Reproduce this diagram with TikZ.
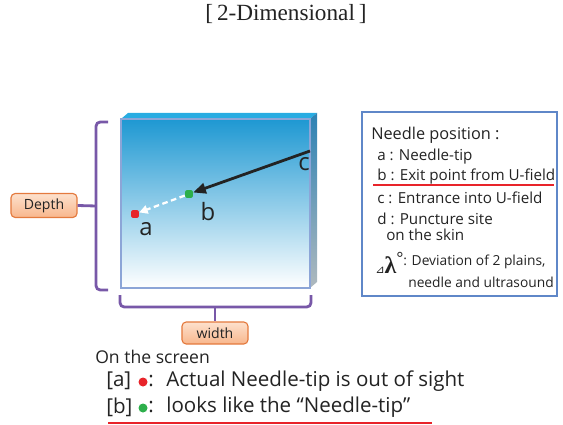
\documentclass[tikz,border=0pt]{standalone}
\usepackage{fontspec}
\setmainfont{Open Sans}
\newfontfamily\titlefont{Liberation Serif}
\newfontfamily\symfont{DejaVu Sans}
\usetikzlibrary{arrows.meta,positioning,calc}
\definecolor{ink}{RGB}{35,35,35}
\definecolor{facetop}{RGB}{30,152,210}
\definecolor{facemid}{RGB}{95,170,220}
\definecolor{faceedge}{RGB}{140,165,215}
\definecolor{topface}{RGB}{40,172,226}
\definecolor{sidetop}{RGB}{45,130,180}
\definecolor{sidebot}{RGB}{175,185,190}
\definecolor{bracecol}{RGB}{120,88,168}
\definecolor{tagline}{RGB}{228,122,62}
\definecolor{tagtop}{RGB}{253,225,205}
\definecolor{tagbot}{RGB}{248,182,140}
\definecolor{legline}{RGB}{95,135,200}
\definecolor{mark}{RGB}{232,36,42}
\definecolor{tipgreen}{RGB}{45,175,75}
\tikzset{
  tag/.style={draw=tagline,line width=0.8pt,rounded corners=3pt,top color=tagtop,
    bottom color=tagbot,inner sep=0pt,text=ink,font=\fontsize{10}{12}\selectfont},
  brace/.style={draw=bracecol,line width=2pt,rounded corners=3pt},
  spot/.style={rounded corners=1.5pt,minimum size=5.6pt,inner sep=0pt},
  dot/.style={circle,minimum size=6.4pt,inner sep=0pt},
  ptlab/.style={inner sep=0pt,text=ink,font=\fontsize{17}{19}\selectfont},
  leghead/.style={anchor=west,inner sep=0pt,text=ink,font=\fontsize{11.6}{13}\selectfont},
  legitem/.style={anchor=west,inner sep=0pt,text=ink,font=\fontsize{10.8}{12}\selectfont},
  legsmall/.style={anchor=west,inner sep=0pt,text=ink,font=\fontsize{9.8}{11}\selectfont},
  screen/.style={anchor=west,inner sep=0pt,text=ink,font=\fontsize{14.6}{17}\selectfont},
  needle/.style={-{Triangle[length=9pt,width=7.5pt]},line width=2pt,ink},
  ghost/.style={-{Triangle[length=6pt,width=6pt]},line width=1.6pt,white,
    dash pattern=on 4pt off 2.5pt},
  redline/.style={draw=mark,line width=1.6pt},
}
\begin{document}
\begin{tikzpicture}[x=0.025cm,y=-0.025cm]
\useasboundingbox (0,0) rectangle (563,425);
\node[inner sep=0pt,text=ink,font=\titlefont\fontsize{16.5}{18}\selectfont] (title) at (286,14) {[\,2-Dimensional\,]};
% the slab
\fill[topface] (121,119) -- (128,113) -- (317,113) -- (310,119) -- cycle;
\shade[top color=sidetop,bottom color=sidebot] (310,119) -- (317,113) -- (317,282) -- (310,288) -- cycle;
\shade[top color=facetop,middle color=facemid,bottom color=white] (121,119) rectangle (310,288);
\draw[faceedge,line width=2pt] (121,119) rectangle (310,288);
% needle path
\coordinate (c) at (310,151);
\node[spot,fill=tipgreen] (b) at (189,194) {};
\node[spot,fill=mark] (a) at (135,214) {};
\draw[needle] (c) -- (b);
\draw[ghost] (b) -- (a);
\node[ptlab] (clab) at (304,164) {c};
\node[ptlab] (blab) at (208,212) {b};
\node[ptlab] (alab) at (146,229) {a};
% braces and tags
\node[tag,minimum width=1.65cm,minimum height=0.6cm] (depth) at (44,205.5) {Depth};
\node[tag,minimum width=1.65cm,minimum height=0.55cm] (width) at (215,333) {width};
\coordinate (dmid) at (96,206);
\coordinate (wmid) at (215,307);
\draw[brace] (108,122) -- (96,122) -- (96,290) -- (108,290);
\draw[brace] (dmid) -- (depth.east);
\draw[brace] (120,295) -- (120,307) -- (311,307) -- (311,295);
\draw[brace] (wmid) -- (width.north);
% legend
\draw[legline,line width=1pt] (362,112) rectangle (557,296);
\node[leghead] (lhead) at (371,135) {Needle position :};
\node[legitem] (la) at (377,157) {a : Needle-tip};
\node[legitem] (lb) at (377,177) {b : Exit point from U-field};
\draw[redline] (373,185) -- (554,185);
\node[legitem] (lc) at (377,198) {c : Entrance into U-field};
\node[legitem] (ld) at (377,219) {d : Puncture site};
\node[legitem] (ld2) at (386,235) {on the skin};
\node[anchor=west,inner sep=0pt,text=ink] (lam) at (375,263)
  {{\symfont\fontsize{8}{8}\selectfont ⊿}{\titlefont\bfseries\fontsize{17}{17}\selectfont λ}\raisebox{6pt}{\fontsize{12}{12}\selectfont °}};
\node[legsmall] (ldev) at (403,262) {: Deviation of 2 plains,};
\node[legsmall] (ldev2) at (408,282) {needle and ultrasound};
% on the screen
\node[anchor=west,inner sep=0pt,text=ink,font=\fontsize{12.5}{15}\selectfont] (scr) at (95,357) {On the screen};
\node[screen] (sa) at (106,381) {[a]};
\node[dot,fill=mark] (sadot) at (143,382) {};
\node[screen] (satext) at (148,381) {:\hspace{9pt}Actual Needle-tip is out of sight};
\node[screen] (sb) at (106,407) {[b]};
\node[dot,fill=tipgreen] (sbdot) at (143,408) {};
\node[screen] (sbtext) at (148,407) {:\hspace{9pt}looks like the “Needle-tip”};
\draw[redline] (108,423) -- (432,423);
\end{tikzpicture}
\end{document}
